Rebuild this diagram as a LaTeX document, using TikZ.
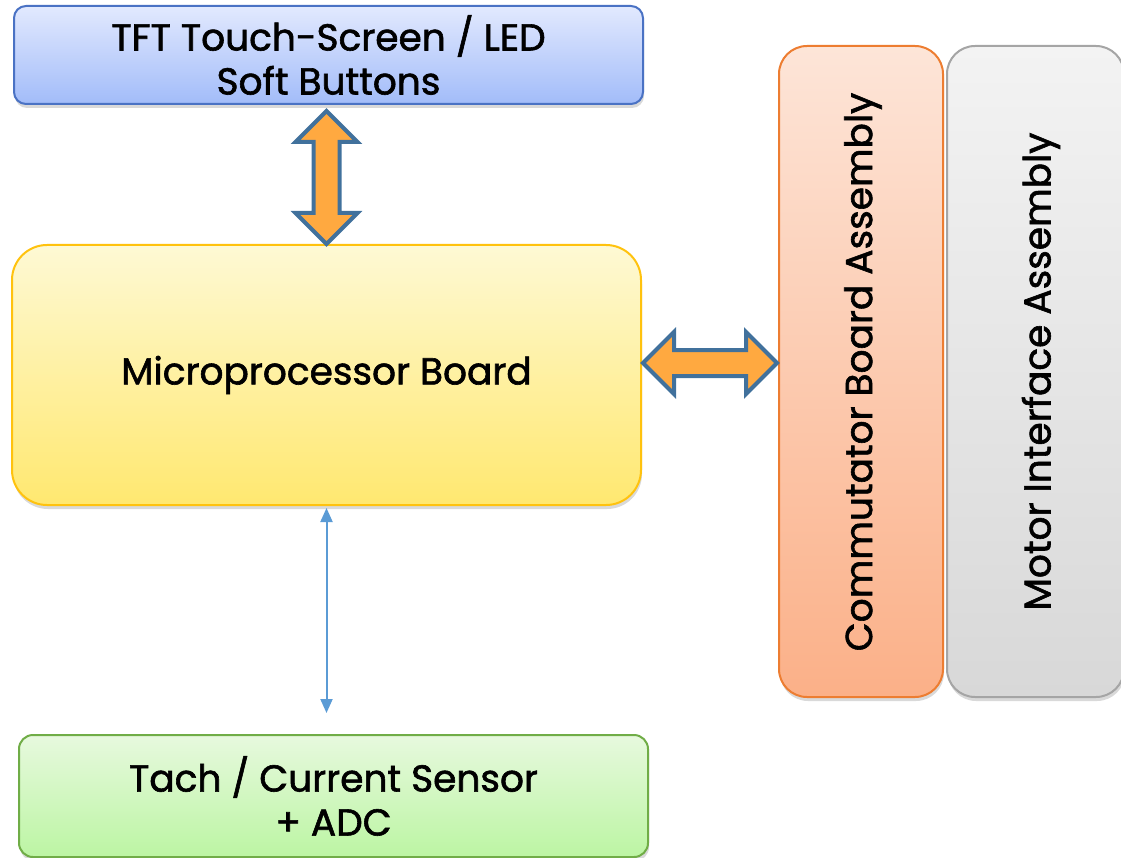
\documentclass[tikz,border=0pt]{standalone}
\usepackage{fontspec}
\setmainfont{Poppins}[FakeBold=1.6]
\usetikzlibrary{shapes.arrows,shadows,arrows.meta,calc}
\definecolor{blueTop}{HTML}{E2E9FE}
\definecolor{blueBot}{HTML}{A2BCF9}
\definecolor{blueLine}{HTML}{4A72C4}
\definecolor{yelTop}{HTML}{FEF9D4}
\definecolor{yelBot}{HTML}{FFE870}
\definecolor{yelLine}{HTML}{FFC20E}
\definecolor{orTop}{HTML}{FDE5D8}
\definecolor{orBot}{HTML}{FBB088}
\definecolor{orLine}{HTML}{ED7D31}
\definecolor{grTop}{HTML}{F3F3F3}
\definecolor{grBot}{HTML}{D8D8D8}
\definecolor{grLine}{HTML}{A5A5A5}
\definecolor{gnTop}{HTML}{E7F9DE}
\definecolor{gnBot}{HTML}{BCF5A3}
\definecolor{gnLine}{HTML}{70AD47}
\definecolor{fatFill}{HTML}{FFA940}
\definecolor{fatLine}{HTML}{41719C}
\definecolor{thinLine}{HTML}{5B9BD5}
\tikzset{
  txt/.style={font=\fontsize{37.5}{44}\selectfont},
  box/.style={draw, line width=2pt, align=center, txt,
    inner sep=0pt, drop shadow={shadow xshift=1pt, shadow yshift=-4pt, opacity=0.25, fill=black!60}},
  fatarrow/.style={double arrow, draw=fatLine, fill=fatFill, line width=4pt,
    inner xsep=0pt, inner ysep=11pt, double arrow head extend=18pt, double arrow tip angle=90,
    minimum width=58pt},
  thinarrow/.style={draw=thinLine, line width=2pt,
    {Triangle[width=12pt,length=14pt]}-{Triangle[width=12pt,length=14pt]}},
}
\begin{document}
\begin{tikzpicture}[x=1pt,y=-1pt]
\useasboundingbox (0,0) rectangle (1121,858);
\node[box, draw=blueLine, top color=blueTop, bottom color=blueBot, rounded corners=12pt,
  minimum width=629pt, minimum height=98pt] (tft) at (328.5,55) {TFT Touch-Screen / LED\\Soft Buttons};
\node[box, draw=yelLine, top color=yelTop, bottom color=yelBot, rounded corners=35pt,
  minimum width=629pt, minimum height=260pt] (mp) at (326.5,375) {Microprocessor Board};
\node[box, draw=orLine, top color=orTop, bottom color=orBot, rounded corners=28pt,
  minimum width=164pt, minimum height=651pt] (comm) at (861,371.5) {};
\node[rotate=90, txt] (commtext) at (863,372) {Commutator Board Assembly};
\node[box, draw=grLine, top color=grTop, bottom color=grBot, rounded corners=28pt,
  minimum width=177pt, minimum height=651pt] (motor) at (1035.5,371.5) {};
\node[rotate=90, txt] (motortext) at (1041,371.5) {Motor Interface Assembly};
\node[box, draw=gnLine, top color=gnTop, bottom color=gnBot, rounded corners=14pt,
  minimum width=629pt, minimum height=122pt] (tach) at (333.5,796) {Tach / Current Sensor\\+ ADC};
% fat arrows
\node[fatarrow, rotate=90, minimum height=133pt] (vfat) at ($(mp.north)+(0,-66.5)$) {};
\node[fatarrow, minimum height=134pt] (hfat) at ($(mp.east)!0.5!(mp.east -| comm.west)+(0,-12)$) {};
% thin arrow
\draw[thinarrow, shorten <=2pt, shorten >=21pt] (mp.south) -- (mp.south |- tach.north);
\end{tikzpicture}
\end{document}
